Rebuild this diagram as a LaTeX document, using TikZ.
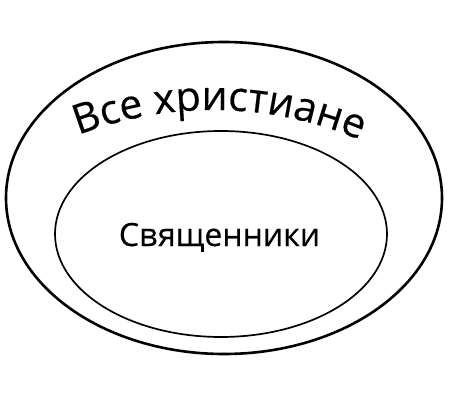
\documentclass[tikz,border=0pt]{standalone}
\usepackage{fontspec}
\setmainfont{Open Sans}[FakeBold=0.4]
\usetikzlibrary{shapes.geometric,decorations.text}
\tikzset{
  ring/.style={draw=black, ellipse, inner sep=0pt, outer sep=0pt},
  outerring/.style={ring, line width=2.6pt},
  innerring/.style={ring, line width=1.7pt},
  label/.style={font=\fontsize{32}{38}\selectfont, anchor=base, inner sep=0pt}
}
\begin{document}
\begin{tikzpicture}[x=1pt,y=1pt]
\useasboundingbox (0,0) rectangle (450,405);
\node[outerring, minimum width=436pt, minimum height=312pt] (outer) at (224,207) {};
\node[innerring, minimum width=332pt, minimum height=206pt] (inner) at (221,171) {};
\node[label] (priests) at (219.5,159) {Священники};
\coordinate (arcc) at (213,-80);
\path[font=\fontsize{41}{48}\selectfont, decorate, decoration={text along path, text align=center,
  text format delimiters={|}{|},
  text={|\fontsize{41}{48}\selectfont|Все христиане}}]
  (arcc) ++(113:375) arc[start angle=113, end angle=65, radius=375];
\end{tikzpicture}
\end{document}
